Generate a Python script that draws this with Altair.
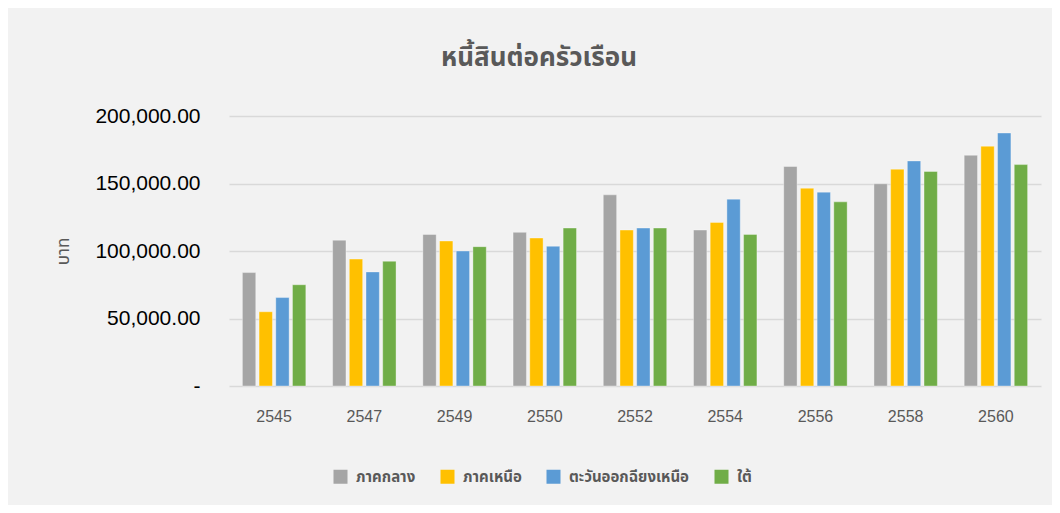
import altair as alt
import pandas as pd

years = ["2545", "2547", "2549", "2550", "2552", "2554", "2556", "2558", "2560"]
regions = ["ภาคกลาง", "ภาคเหนือ", "ตะวันออกฉียงเหนือ", "ใต้"]
central = [84000, 108000, 112300, 113800, 141600, 115500, 162600, 149800, 170900]
north = [55000, 94000, 107400, 109600, 115500, 121200, 146500, 160600, 177600]
northeast = [65500, 84500, 100000, 103500, 117000, 138400, 143600, 166700, 187400]
south = [75000, 92400, 103200, 117000, 117000, 112300, 136400, 158900, 164000]
colors = ["#A5A5A5", "#FFC000", "#5B9BD5", "#70AD47"]

rows = []
for name, vals in zip(regions, [central, north, northeast, south]):
    for y, v in zip(years, vals):
        rows.append({"year": y, "region": name, "value": v})
df = pd.DataFrame(rows)

FONT = "Liberation Sans"
THAI = "Noto Sans Thai, Tahoma, Noto Sans, sans-serif"

bars = alt.Chart(df).mark_bar(stroke="#ffffff", strokeWidth=1, strokeOpacity=0.35).encode(
    x=alt.X("year:N", sort=years, title=None,
            scale=alt.Scale(paddingInner=0.26, paddingOuter=0.13),
            axis=alt.Axis(labelAngle=0, labelFont=FONT, labelFontSize=16, labelColor="#595959",
                          labelPadding=22, ticks=False, domain=False, grid=False)),
    xOffset=alt.XOffset("region:N", sort=regions,
                        scale=alt.Scale(paddingInner=0.2, paddingOuter=0.1)),
    y=alt.Y("value:Q", title="บาท",
            scale=alt.Scale(domain=[0, 200000], nice=False),
            axis=alt.Axis(values=[0, 50000, 100000, 150000, 200000],
                          labelExpr="datum.value == 0 ? '-\u00a0\u00a0' : format(datum.value, ',.2f')",
                          labelFont=FONT, labelFontSize=21, labelColor="#000000",
                          labelPadding=29, ticks=False, domain=False,
                          grid=True, gridColor="#D9D9D9", gridWidth=1.5,
                          titleFont=THAI, titleFontSize=17, titleColor="#595959",
                          titleFontWeight="normal", titleAngle=-90,
                          titleX=-166, titleY=135, titleAlign="center", titleBaseline="middle")),
    color=alt.Color("region:N", sort=regions,
                    scale=alt.Scale(domain=regions, range=colors),
                    legend=alt.Legend(title=None, orient="none", legendX=104, legendY=353,
                                      direction="horizontal", columns=4,
                                      symbolType="square", symbolSize=196,
                                      symbolStrokeWidth=0, symbolOpacity=1,
                                      labelFont=THAI, labelFontSize=15, labelFontWeight="bold",
                                      labelColor="#595959", labelOffset=8, columnPadding=24)),
)

chart = bars.properties(
    width=812, height=270,
    title=alt.TitleParams("หนี้สินต่อครัวเรือน", font=THAI, fontSize=26, fontWeight="bold",
                          color="#595959", anchor="middle", dx=-96, offset=34),
    autosize=alt.AutoSizeParams(type="none"),
    padding={"left": 221, "top": 108, "right": 11, "bottom": 119},
    background="#F2F2F2",
).configure_view(stroke=None)

chart.save("out.html", embed_options={"renderer": "svg", "actions": False})
